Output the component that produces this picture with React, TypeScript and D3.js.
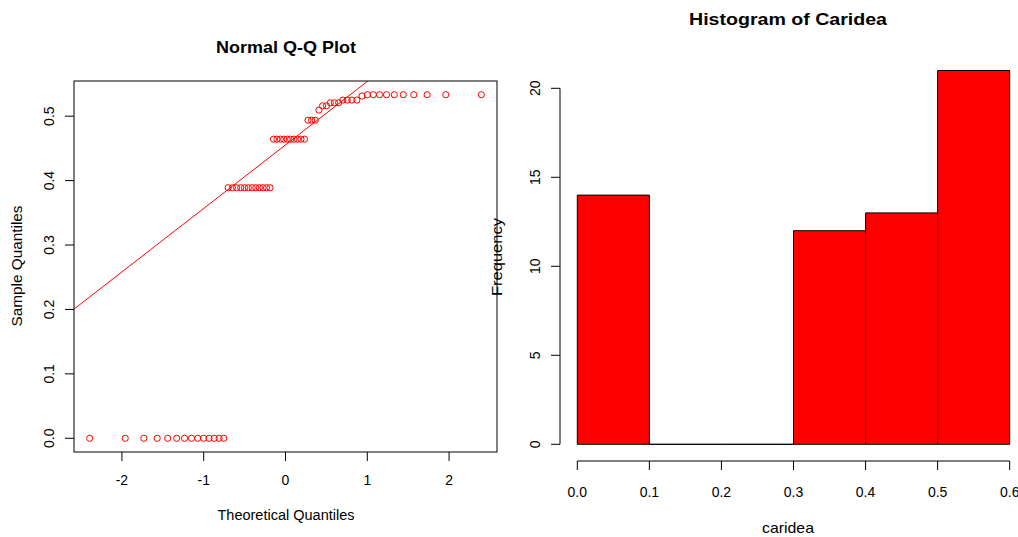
import React from "react";
import * as d3 from "d3";

// Sorted sample values (Caridea), n = 60
const sampleValues: number[] = [
  0, 0, 0, 0, 0, 0, 0, 0, 0, 0, 0, 0, 0, 0,
  0.3889, 0.3889, 0.3889, 0.3889, 0.3889, 0.3889, 0.3889, 0.3889, 0.3889, 0.3889, 0.3889, 0.3889,
  0.4643, 0.4643, 0.4643, 0.4643, 0.4643, 0.4643, 0.4643, 0.4643, 0.4643, 0.4643,
  0.4937, 0.4937, 0.4937,
  0.5094,
  0.5161, 0.5161,
  0.5208, 0.5208, 0.5208,
  0.525, 0.525, 0.525, 0.525,
  0.5313,
  0.5333, 0.5333, 0.5333, 0.5333, 0.5333, 0.5333, 0.5333, 0.5333, 0.5333, 0.5333,
];

// Theoretical normal quantiles for ppoints(60)
const theoreticalLower: number[] = [
  -2.394, -1.96, -1.732, -1.569, -1.44, -1.33, -1.235, -1.15, -1.073, -1.001,
  -0.935, -0.872, -0.812, -0.755, -0.701, -0.649, -0.598, -0.548, -0.501, -0.454,
  -0.408, -0.363, -0.319, -0.275, -0.232, -0.189, -0.147, -0.105, -0.063, -0.021,
];
const theoreticalQuantiles: number[] = [
  ...theoreticalLower,
  ...theoreticalLower.slice().reverse().map((v) => -v),
];

const qqXTicks = [-2, -1, 0, 1, 2];
const qqYTicks = [0, 0.1, 0.2, 0.3, 0.4, 0.5];

// Histogram
const binEdges: number[] = [0, 0.1, 0.2, 0.3, 0.4, 0.5, 0.6];
const binCounts: number[] = [14, 0, 0, 12, 13, 21];
const histXTicks = [0, 0.1, 0.2, 0.3, 0.4, 0.5, 0.6];
const histYTicks = [0, 5, 10, 15, 20];

const FONT = "'Liberation Sans', Arial, sans-serif";
const RED = "#FF0000";

export default function App() {
  // QQ plot scales
  const qx = d3.scaleLinear().domain([-2.586, 2.586]).range([74, 497]);
  const qy = d3.scaleLinear().domain([-0.0213, 0.5546]).range([452, 81]);

  // qqline through quartiles
  const q1 = d3.quantile(sampleValues, 0.25)!;
  const q3 = d3.quantile(sampleValues, 0.75)!;
  const z = 0.6745;
  const slope = (q3 - q1) / (2 * z);
  const intercept = (q1 + q3) / 2;
  const [lineX0, lineX1] = qx.domain();

  // Histogram scales
  const hx = d3.scaleLinear().domain([0, 0.6]).range([577.3, 1009.7]);
  const hy = d3.scaleLinear().domain([0, 20]).range([444.3, 88.3]);

  const fmt1 = d3.format(".1f");

  const barPath = (i: number) => {
    const x0 = hx(binEdges[i]);
    const x1 = hx(binEdges[i + 1]);
    const y0 = hy(0);
    const y1 = hy(binCounts[i]);
    const p = d3.path();
    p.moveTo(x0, y0);
    p.lineTo(x0, y1);
    p.lineTo(x1, y1);
    p.lineTo(x1, y0);
    p.closePath();
    return p.toString();
  };

  return (
    <svg
      width={1018}
      height={537}
      style={{ position: "absolute", left: 0, top: 0, background: "#fff" }}
      fontFamily={FONT}
    >
      <rect x={0} y={0} width={1018} height={537} fill="#fff" />
      {/* ===== QQ plot ===== */}
      <text
        x={286}
        y={53}
        textAnchor="middle"
        fontSize={17}
        fontWeight="bold"
        fill="#000"
        textLength={140}
        lengthAdjust="spacingAndGlyphs"
      >
        Normal Q-Q Plot
      </text>
      <defs>
        <clipPath id="qqclip">
          <rect x={74} y={81} width={423} height={371} />
        </clipPath>
      </defs>
      <line
        x1={qx(lineX0)}
        y1={qy(intercept + slope * lineX0)}
        x2={qx(lineX1)}
        y2={qy(intercept + slope * lineX1)}
        stroke={RED}
        strokeWidth={1}
        clipPath="url(#qqclip)"
      />
      {sampleValues.map((v, i) => (
        <circle
          key={i}
          cx={qx(theoreticalQuantiles[i])}
          cy={qy(v)}
          r={3.1}
          fill="none"
          stroke={RED}
          strokeWidth={1}
        />
      ))}
      <rect x={74} y={81} width={423} height={371} fill="none" stroke="#000" strokeWidth={1} />
      {qqXTicks.map((t) => (
        <g key={t}>
          <line x1={qx(t)} x2={qx(t)} y1={452} y2={461} stroke="#000" />
          <text x={qx(t)} y={485} textAnchor="middle" fontSize={14} fill="#000">
            {t}
          </text>
        </g>
      ))}
      {qqYTicks.map((t) => (
        <g key={t}>
          <line x1={65} x2={74} y1={qy(t)} y2={qy(t)} stroke="#000" />
          <text
            transform={`translate(54,${qy(t)}) rotate(-90)`}
            textAnchor="middle"
            fontSize={14}
            fill="#000"
          >
            {fmt1(t)}
          </text>
        </g>
      ))}
      <text x={286} y={520} textAnchor="middle" fontSize={14} fill="#000" textLength={137} lengthAdjust="spacingAndGlyphs">
        Theoretical Quantiles
      </text>
      <text
        transform={`translate(22,266) rotate(-90)`}
        textAnchor="middle"
        fontSize={14}
        fill="#000"
        textLength={121}
        lengthAdjust="spacingAndGlyphs"
      >
        Sample Quantiles
      </text>

      {/* ===== Histogram ===== */}
      <text
        x={788}
        y={25}
        textAnchor="middle"
        fontSize={17}
        fontWeight="bold"
        fill="#000"
        textLength={198}
        lengthAdjust="spacingAndGlyphs"
      >
        Histogram of Caridea
      </text>
      {binCounts.map((c, i) => (
        <path key={i} d={barPath(i)} fill={RED} stroke="#000" strokeWidth={1} />
      ))}
      <line x1={hx(0)} x2={hx(0.6)} y1={461} y2={461} stroke="#000" />
      {histXTicks.map((t) => (
        <g key={t}>
          <line x1={hx(t)} x2={hx(t)} y1={461} y2={470} stroke="#000" />
          <text x={hx(t)} y={497} textAnchor="middle" fontSize={14} fill="#000">
            {fmt1(t)}
          </text>
        </g>
      ))}
      <line x1={560} x2={560} y1={hy(0)} y2={hy(20)} stroke="#000" />
      {histYTicks.map((t) => (
        <g key={t}>
          <line x1={551} x2={560} y1={hy(t)} y2={hy(t)} stroke="#000" />
          <text
            transform={`translate(540,${hy(t)}) rotate(-90)`}
            textAnchor="middle"
            fontSize={14}
            fill="#000"
          >
            {t}
          </text>
        </g>
      ))}
      <text x={788} y={533} textAnchor="middle" fontSize={15} fill="#000" textLength={52} lengthAdjust="spacingAndGlyphs">
        caridea
      </text>
      <text
        transform={`translate(502,257) rotate(-90)`}
        textAnchor="middle"
        fontSize={15}
        fill="#000"
        textLength={78}
        lengthAdjust="spacingAndGlyphs"
      >
        Frequency
      </text>
    </svg>
  );
}
